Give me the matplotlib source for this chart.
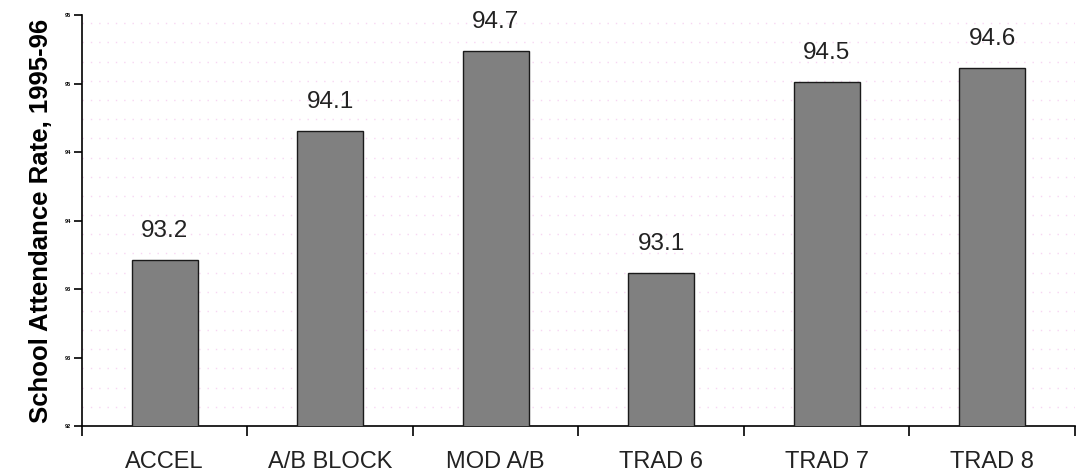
import matplotlib

matplotlib.use("Agg")
import matplotlib.pyplot as plt  # noqa: E402
import numpy as np

categories = ["ACCEL", "A/B BLOCK", "MOD A/B", "TRAD 6", "TRAD 7", "TRAD 8"]
rates = [93.21, 94.15, 94.74, 93.12, 94.51, 94.61]
rate_labels = ["93.2", "94.1", "94.7", "93.1", "94.5", "94.6"]
y_ticks = [92.0, 92.5, 93.0, 93.5, 94.0, 94.5, 95.0]
y_tick_labels = ["92", "93", "93", "94", "94", "95", "95"]

plt.rcParams["font.family"] = ["Liberation Sans", "DejaVu Sans"]

fig = plt.figure(figsize=(10.9, 4.76), dpi=100)
ax = fig.add_axes([0.0752, 0.105, 0.911, 0.8634])

x = np.arange(len(categories))
ax.bar(x, rates, width=0.4, color="#808080", edgecolor="#1a1a1a", linewidth=1.0, zorder=3)

for xi, v, lab in zip(x, rates, rate_labels):
    ax.annotate(lab, (xi, v), xytext=(0, 13), textcoords="offset points",
                ha="center", va="bottom", fontsize=17.5, color="#222222")

# faint dotted background lines, like the dithered original
for yy in np.arange(92.0, 95.01, 0.14):
    ax.axhline(yy, color="#f7d6f2", linestyle=(0, (1, 5)), linewidth=1.0, zorder=0)

ax.set_xlim(-0.5, len(categories) - 0.5)
ax.set_ylim(92, 95)
ax.set_yticks(y_ticks)
ax.set_yticklabels(y_tick_labels, fontsize=4, fontweight="bold")
ax.set_xticks(x)
ax.set_xticklabels(categories, fontsize=17, color="#222222")
ax.tick_params(axis="x", which="major", length=0, pad=18)
ax.set_xticks(np.arange(-0.5, len(categories)), minor=True)
ax.tick_params(axis="x", which="minor", length=7, width=1.2, direction="out")
ax.tick_params(axis="y", length=6, width=1.2, direction="out", pad=2)

for side in ("top", "right"):
    ax.spines[side].set_visible(False)
for side in ("left", "bottom"):
    ax.spines[side].set_linewidth(1.2)

ax.set_ylabel("School Attendance Rate, 1995-96", fontsize=18.5, fontweight="bold", labelpad=8)

fig.savefig("out.png", dpi=100)
